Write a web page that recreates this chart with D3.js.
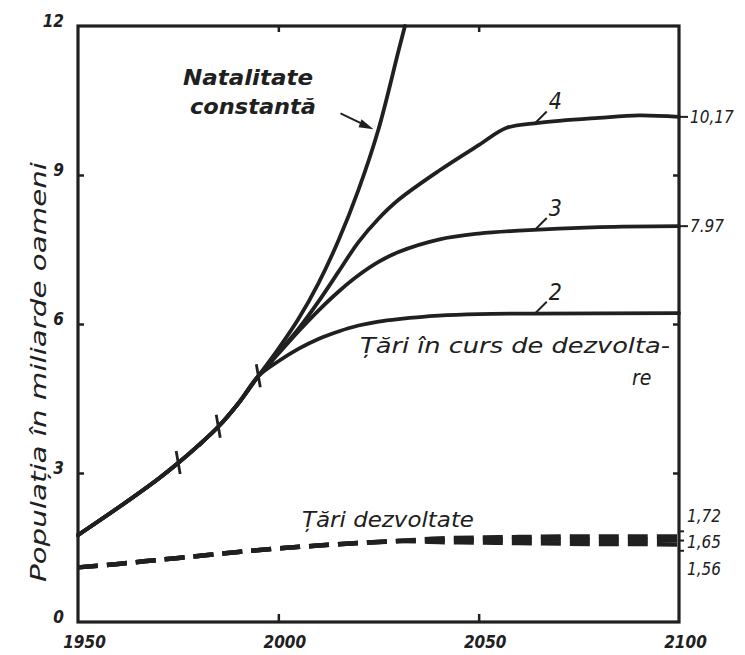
<!DOCTYPE html>
<html>
<head>
<meta charset="utf-8">
<script src="https://cdn.jsdelivr.net/npm/d3@7"></script>
<style>
  body { margin: 0; background: #fff; }
  text { font-family: "DejaVu Sans Condensed", "DejaVu Sans", sans-serif; font-style: oblique; fill: #202020; }
</style>
</head>
<body>
<script>
/* date (miliarde oameni) */
var bundleYears = [1950, 1960, 1970, 1975, 1980, 1985, 1990, 1995];
var bundleVals  = [1.75, 2.3, 2.88, 3.2, 3.55, 3.93, 4.4, 4.95];

var natYears = [2000, 2005, 2010, 2015, 2020, 2025, 2030, 2031.6];
var natVals  = [5.5, 6.1, 6.82, 7.68, 8.7, 9.92, 11.5, 12];

var v4Years = [2000, 2005, 2010, 2015, 2020, 2025, 2030, 2040, 2050, 2057, 2065, 2080, 2090, 2100];
var v4Vals  = [5.42, 5.9, 6.45, 7.05, 7.65, 8.12, 8.5, 9.08, 9.6, 9.95, 10.05, 10.15, 10.2, 10.17];

var v3Years = [2000, 2005, 2010, 2015, 2020, 2025, 2030, 2040, 2050, 2060, 2080, 2100];
var v3Vals  = [5.4, 5.85, 6.27, 6.65, 6.98, 7.25, 7.45, 7.7, 7.82, 7.88, 7.95, 7.97];

var v2Years = [2000, 2005, 2010, 2015, 2020, 2025, 2030, 2040, 2050, 2100];
var v2Vals  = [5.25, 5.5, 5.7, 5.85, 5.97, 6.05, 6.1, 6.17, 6.2, 6.22];

/* tari dezvoltate: trei variante dupa 2030 */
var devYears = [1950, 1960, 1970, 1980, 1990, 2000, 2010, 2020, 2030, 2040, 2050, 2060, 2070, 2080, 2090, 2100];
var devHigh  = [1.1, 1.17, 1.25, 1.33, 1.41, 1.48, 1.54, 1.59, 1.63, 1.68, 1.7, 1.71, 1.72, 1.72, 1.72, 1.72];
var devMid   = [1.1, 1.17, 1.25, 1.33, 1.41, 1.48, 1.54, 1.59, 1.63, 1.65, 1.66, 1.66, 1.66, 1.65, 1.65, 1.65];
var devLow   = [1.1, 1.17, 1.25, 1.33, 1.41, 1.48, 1.54, 1.59, 1.63, 1.61, 1.6, 1.59, 1.58, 1.57, 1.57, 1.56];

var markYears = [1975, 1985, 1995];
var xTicks = [1950, 2000, 2050, 2100];
var yTicks = [0, 3, 6, 9, 12];
var rightVals = [10.17, 7.97, 1.72, 1.65, 1.56];
var rightText = ['10,17', '7.97', '1,72', '1,65', '1,56'];
var rightShift = [0, 0, -21, 2, 25]; /* etichetele de jos sunt departate */

var ink = '#202020';

var svg = d3.select('body').append('svg')
  .attr('width', 745)
  .attr('height', 655);

var x = d3.scaleLinear().domain([1950, 2100]).range([78, 679]);
var y = d3.scaleLinear().domain([0, 12]).range([622, 26]);

function pts(ys, vs) { return ys.map(function (t, i) { return [t, vs[i]]; }); }
var bundle = pts(bundleYears, bundleVals);

var line = d3.line()
  .x(function (d) { return x(d[0]); })
  .y(function (d) { return y(d[1]); })
  .curve(d3.curveCatmullRom.alpha(0.5));

/* cadrul */
svg.append('rect')
  .attr('x', x(1950)).attr('y', y(12))
  .attr('width', x(2100) - x(1950)).attr('height', y(0) - y(12))
  .attr('fill', 'none').attr('stroke', ink).attr('stroke-width', 3.2);

function clean(g, w) {
  g.select('.domain').remove();
  g.selectAll('line').attr('stroke', ink).attr('stroke-width', w || 2.5);
}

/* gradatii interioare */
svg.append('g').attr('transform', 'translate(' + x(1950) + ',0)')
  .call(d3.axisRight(y).tickValues([3, 6, 9]).tickSize(6).tickFormat(''))
  .call(clean);
svg.append('g').attr('transform', 'translate(' + x(2100) + ',0)')
  .call(d3.axisLeft(y).tickValues([3, 6, 9]).tickSize(6).tickFormat(''))
  .call(clean);
svg.append('g').attr('transform', 'translate(0,' + y(0) + ')')
  .call(d3.axisTop(x).tickValues([2000, 2050]).tickSize(8).tickFormat(''))
  .call(clean);
svg.append('g').attr('transform', 'translate(0,' + y(12) + ')')
  .call(d3.axisBottom(x).tickValues([2000, 2050]).tickSize(6).tickFormat(''))
  .call(clean);

/* etichetele axelor */
var yl = svg.append('g').attr('transform', 'translate(' + x(1950) + ',0)')
  .call(d3.axisLeft(y).tickValues(yTicks).tickSize(0).tickPadding(14).tickFormat(d3.format('d')))
  .call(clean);
yl.selectAll('text').attr('font-size', 17).attr('font-weight', 'bold').attr('dy', '0').attr('y', 0);

var xl = svg.append('g').attr('transform', 'translate(0,' + y(0) + ')')
  .call(d3.axisBottom(x).tickValues(xTicks).tickSize(0).tickPadding(14).tickFormat(d3.format('d')))
  .call(clean);
xl.selectAll('text').attr('font-size', 17).attr('font-weight', 'bold').attr('dx', 6);

svg.append('text')
  .attr('transform', 'translate(46,372) rotate(-90)')
  .attr('text-anchor', 'middle')
  .attr('font-size', 21)
  .attr('textLength', 420).attr('lengthAdjust', 'spacingAndGlyphs')
  .text('Populația în miliarde oameni');

/* valorile de la dreapta */
rightVals.forEach(function (v, i) {
  var yy = y(v);
  svg.append('line')
    .attr('x1', x(2100)).attr('x2', x(2100) + (i < 2 ? 9 : 5))
    .attr('y1', yy + rightShift[i] * 0.25).attr('y2', yy + rightShift[i] * 0.25)
    .attr('stroke', ink).attr('stroke-width', 2);
  svg.append('text')
    .attr('x', x(2100) + (i < 2 ? 11 : 8))
    .attr('y', yy + rightShift[i])
    .attr('dy', '0.35em')
    .attr('font-size', 17)
    .text(rightText[i]);
});

/* curbele tarilor in curs de dezvoltare */
var curves = [
  bundle.concat(pts(natYears, natVals)),
  bundle.concat(pts(v4Years, v4Vals)),
  bundle.concat(pts(v3Years, v3Vals)),
  bundle.concat(pts(v2Years, v2Vals))
];
svg.selectAll('.dev').data(curves).enter().append('path')
  .attr('class', 'dev')
  .attr('d', line)
  .attr('fill', 'none').attr('stroke', ink).attr('stroke-width', 3.8)
  .attr('stroke-linecap', 'round');

/* semnele de pe fascicul */
markYears.forEach(function (t) {
  var v = bundleVals[bundleYears.indexOf(t)];
  svg.append('line')
    .attr('x1', x(t) - 2).attr('y1', y(v) - 12)
    .attr('x2', x(t) + 2).attr('y2', y(v) + 11)
    .attr('stroke', ink).attr('stroke-width', 2.8);
});

/* tari dezvoltate (linie intrerupta) */
[devHigh, devMid, devLow].forEach(function (vals) {
  svg.append('path')
    .attr('d', line(pts(devYears, vals)))
    .attr('fill', 'none').attr('stroke', ink).attr('stroke-width', 4.5)
    .attr('stroke-dasharray', '20,9');
});

/* numerele variantelor */
var variants = [['4', v4Years, v4Vals], ['3', v3Years, v3Vals], ['2', v2Years, v2Vals]];
variants.forEach(function (d) {
  var t = 2064;
  var v = d3.scaleLinear().domain(d[1]).range(d[2])(t);
  var px = x(t), py = y(v);
  svg.append('line')
    .attr('x1', px).attr('y1', py)
    .attr('x2', px + 12).attr('y2', py - 12)
    .attr('stroke', ink).attr('stroke-width', 2);
  svg.append('text')
    .attr('x', px + 14).attr('y', py - 14)
    .attr('font-size', 23)
    .text(d[0]);
});

/* texte */
svg.append('text').attr('x', 183).attr('y', 85)
  .attr('font-size', 22).attr('font-weight', 'bold')
  .attr('textLength', 130).attr('lengthAdjust', 'spacingAndGlyphs')
  .text('Natalitate');
svg.append('text').attr('x', 190).attr('y', 114)
  .attr('font-size', 22).attr('font-weight', 'bold')
  .attr('textLength', 126).attr('lengthAdjust', 'spacingAndGlyphs')
  .text('constantă');

/* sageata */
var ax = x(2025) - 5, ay = y(9.92);
svg.append('line')
  .attr('x1', ax - 33).attr('y1', ay - 16)
  .attr('x2', ax - 6).attr('y2', ay - 3)
  .attr('stroke', ink).attr('stroke-width', 2);
svg.append('path')
  .attr('d', 'M' + ax + ',' + ay + 'L' + (ax - 12) + ',' + (ay - 10) + 'L' + (ax - 15) + ',' + (ay - 2) + 'Z')
  .attr('fill', ink);

svg.append('text').attr('x', 360).attr('y', 353)
  .attr('font-size', 21)
  .attr('textLength', 310).attr('lengthAdjust', 'spacingAndGlyphs')
  .text('Țări în curs de dezvolta-');
svg.append('text').attr('x', 632).attr('y', 385)
  .attr('font-size', 21)
  .text('re');

svg.append('text').attr('x', 302).attr('y', 527)
  .attr('font-size', 21)
  .attr('textLength', 172).attr('lengthAdjust', 'spacingAndGlyphs')
  .text('Țări dezvoltate');
</script>
</body>
</html>
